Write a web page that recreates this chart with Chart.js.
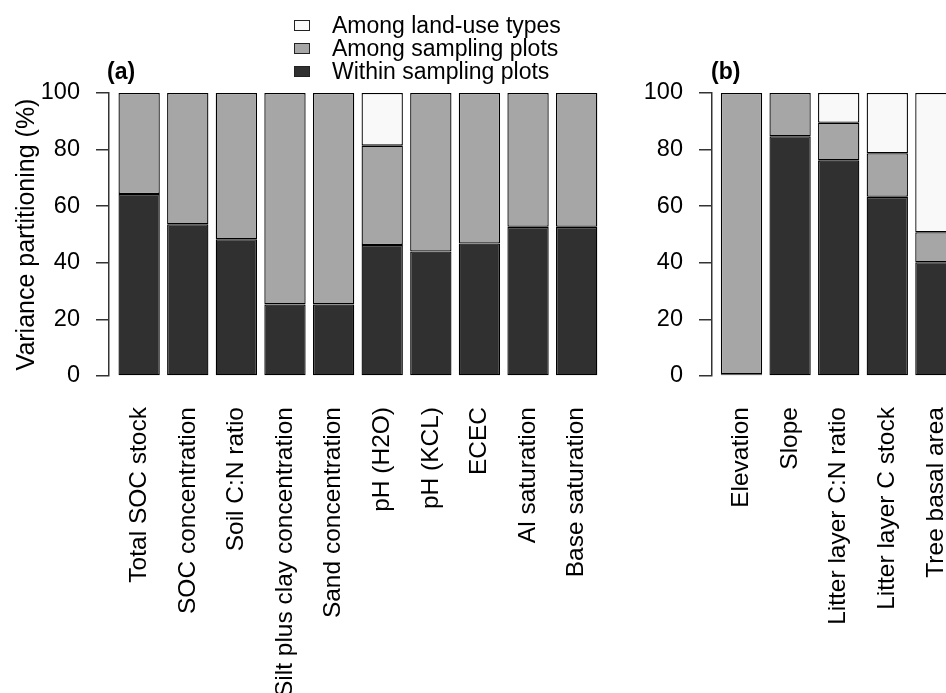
<!DOCTYPE html>
<html>
<head>
<meta charset="utf-8">
<script src="https://cdn.jsdelivr.net/npm/chart.js@4/dist/chart.umd.min.js"></script>
<style>
  html, body { margin: 0; padding: 0; background: #fff; }
  body { width: 946px; height: 693px; overflow: hidden; position: relative; font-family: "Liberation Sans", Arial, sans-serif; }
  #wrap-a { position: absolute; left: 0; top: 0; }
  #wrap-b { position: absolute; left: 620px; top: 0; }
  .panel-tag { position: absolute; font-weight: bold; font-size: 23px; line-height: 23px; color: #000; }
  #legend { position: absolute; left: 294px; top: 14px; font-size: 23px; color: #000; }
  .leg-row { height: 23px; line-height: 23px; display: flex; align-items: center; white-space: nowrap; }
  .leg-box { width: 14px; height: 9px; border: 1px solid #222; margin-right: 22px; flex: none; }
</style>
</head>
<body>
<div id="wrap-a"><canvas id="chartA" width="620" height="693"></canvas></div>
<div id="wrap-b"><canvas id="chartB" width="340" height="693"></canvas></div>
<div class="panel-tag" style="left:107px; top:60px;">(a)</div>
<div class="panel-tag" style="left:711px; top:60px;">(b)</div>
<div id="legend"></div>

<script>
// ---- data ----
const labelsA = ["Total SOC stock", "SOC concentration", "Soil C:N ratio", "Silt plus clay concentration",
  "Sand concentration", "pH (H2O)", "pH (KCL)", "ECEC", "Al saturation", "Base saturation"];
const withinA = [64.3, 53.6, 48.3, 25.3, 25.3, 46.3, 44.0, 46.8, 52.7, 52.7];
const plotsA = [35.7, 46.4, 51.7, 74.7, 74.7, 35.1, 56.0, 53.2, 47.3, 47.3];
const landUseA = [0, 0, 0, 0, 0, 18.6, 0, 0, 0, 0];

const labelsB = ["Elevation", "Slope", "Litter layer C:N ratio", "Litter layer C stock", "Tree basal area"];
const withinB = [0.6, 84.7, 76.2, 63.3, 40.2];
const plotsB = [99.4, 15.3, 13.3, 15.4, 10.6];
const landUseB = [0, 0, 10.5, 21.3, 49.2];

const yTicks = [0, 20, 40, 60, 80, 100];
const seriesNames = ["Among land-use types", "Among sampling plots", "Within sampling plots"];
const seriesColors = ["#f9f9f9", "#a6a6a6", "#303030"];

const FONT = "'Liberation Sans', Arial, sans-serif";

// ---- legend (html) ----
const legend = document.getElementById("legend");
seriesNames.forEach((name, i) => {
  const row = document.createElement("div");
  row.className = "leg-row";
  row.innerHTML = '<span class="leg-box" style="background:' + seriesColors[i] + '"></span><span>' + name + "</span>";
  legend.appendChild(row);
});

function toPoints(arr) {
  return arr.map((v, i) => ({ x: i, y: v }));
}

function makeChart(id, labels, within, plots, landUse, cfg) {
  const ds = (data, color) => ({
    data: toPoints(data),
    backgroundColor: color,
    borderColor: "#000",
    borderWidth: 1.3,
    borderSkipped: false,
    categoryPercentage: 1,
    barPercentage: 0.85,
  });

  return new Chart(document.getElementById(id), {
    type: "bar",
    data: {
      datasets: [
        ds(within, seriesColors[2]),
        ds(plots, seriesColors[1]),
        ds(landUse, seriesColors[0]),
      ],
    },
    options: {
      responsive: false,
      animation: false,
      layout: { padding: { top: 93, left: 0, right: cfg.padRight, bottom: 0 } },
      plugins: { legend: { display: false }, tooltip: { enabled: false } },
      scales: {
        x: {
          type: "linear",
          stacked: true,
          offset: false,
          min: cfg.xMin,
          max: cfg.xMax,
          grid: { display: false, drawTicks: false },
          border: { display: false },
          afterBuildTicks: (s) => { s.ticks = labels.map((_, i) => ({ value: i })); },
          afterFit: (s) => {
            // fixed height for the rotated labels, no extra side padding
            s.height = 317;
            s.paddingLeft = 0;
            s.paddingRight = 0;
          },
          ticks: {
            autoSkip: false,
            minRotation: 90,
            maxRotation: 90,
            padding: 31,
            color: "#000",
            font: { family: FONT, size: 24.5 },
            callback: (v) => labels[v],
          },
        },
        y: {
          stacked: true,
          min: 0,
          max: 100,
          afterBuildTicks: (s) => { s.ticks = yTicks.map((v) => ({ value: v })); },
          afterFit: (s) => { s.width = cfg.yWidth; },
          grid: { drawOnChartArea: false, drawTicks: true, tickLength: 13, color: "#333", lineWidth: 1.5 },
          border: { display: true, color: "#333", width: 1.5 },
          ticks: { padding: 16, color: "#000", font: { family: FONT, size: 23.5 } },
          title: {
            display: cfg.title !== "",
            text: cfg.title,
            color: "#000",
            font: { family: FONT, size: 25 },
            padding: { top: 12, bottom: 0 },
          },
        },
      },
    },
  });
}

makeChart("chartA", labelsA, withinA, plotsA, landUseA,
  { xMin: -0.62, xMax: 9.48, yWidth: 109, padRight: 20, title: "Variance partitioning (%)" });
makeChart("chartB", labelsB, withinB, plotsB, landUseB,
  { xMin: -0.607, xMax: 4.496, yWidth: 92, padRight: 0, title: "" });
</script>
</body>
</html>
